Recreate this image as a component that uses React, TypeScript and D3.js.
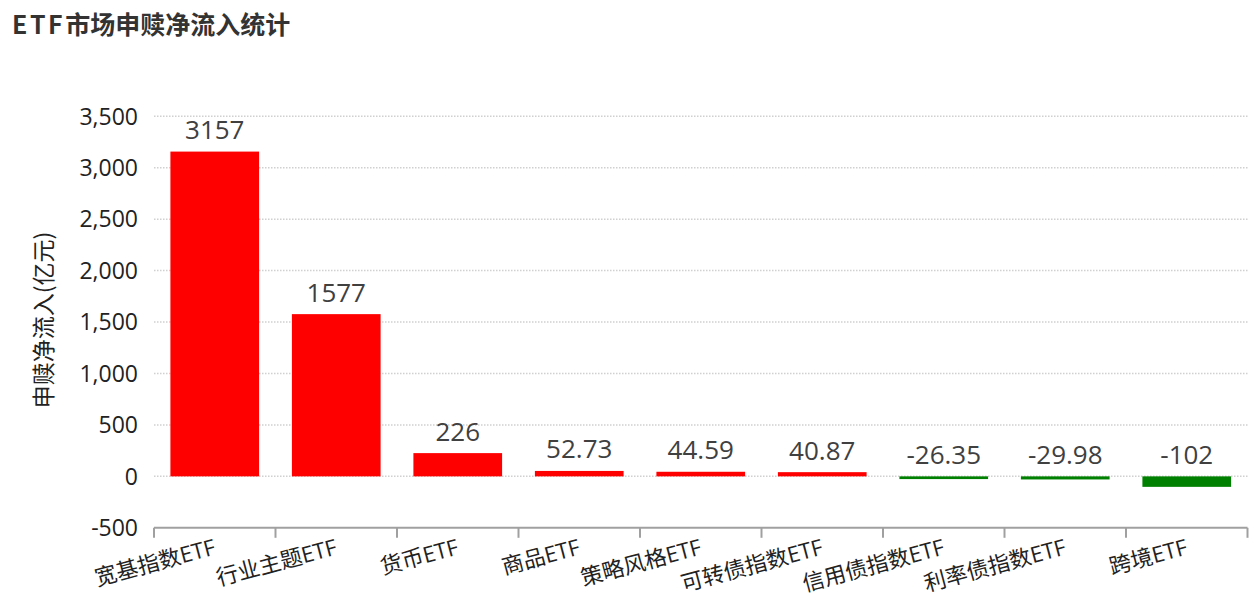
import { useEffect, useRef } from 'react'
import * as d3 from 'd3'

const categories = ['宽基指数ETF', '行业主题ETF', '货币ETF', '商品ETF', '策略风格ETF', '可转债指数ETF', '信用债指数ETF', '利率债指数ETF', '跨境ETF']
const netFlows = [3157, 1577, 226, 52.73, 44.59, 40.87, -26.35, -29.98, -102]
const valueLabels = ['3157', '1577', '226', '52.73', '44.59', '40.87', '-26.35', '-29.98', '-102']
const yTicks = [-500, 0, 500, 1000, 1500, 2000, 2500, 3000, 3500]

const FONT = '"Open Sans", "Noto Sans CJK SC", sans-serif'
const CJK_FONT = '"Noto Sans CJK SC", sans-serif'

export default function App() {
  const svgRef = useRef<SVGSVGElement>(null)

  useEffect(() => {
    if (!svgRef.current) return
    const svg = d3.select(svgRef.current)
    svg.selectAll('*').remove()

    const width = 1260
    const height = 600
    const left = 154
    const right = 1247.5
    const top = 116.3
    const bottom = 527.8

    svg.attr('width', width).attr('height', height).style('font-family', FONT)

    // Title
    const title = svg.append('text')
      .attr('x', 12)
      .attr('y', 34)
      .style('font-family', CJK_FONT)
      .style('font-size', '25px')
      .style('font-weight', 'bold')
      .style('fill', '#333333')
    title.append('tspan').style('letter-spacing', '2.5px').text('ETF')
    title.append('tspan').text('市场申赎净流入统计')

    const x = d3.scaleBand<string>()
      .domain(categories)
      .range([left, right])
      .paddingInner(0.27)
      .paddingOuter(0.135)

    const y = d3.scaleLinear()
      .domain([-500, 3500])
      .range([bottom, top])

    const step = x.step()

    // Dotted grid lines
    svg.selectAll('.grid-line')
      .data(yTicks.filter(t => t !== -500))
      .enter().append('line')
      .attr('x1', left)
      .attr('x2', right)
      .attr('y1', d => y(d))
      .attr('y2', d => y(d))
      .attr('stroke', '#d0d0d0')
      .attr('stroke-width', 1.5)
      .attr('stroke-dasharray', '1.5,1.5')

    // Y tick labels
    svg.selectAll('.y-label')
      .data(yTicks)
      .enter().append('text')
      .attr('x', 138)
      .attr('y', d => y(d))
      .attr('dy', '0.36em')
      .attr('text-anchor', 'end')
      .style('font-size', '23px')
      .style('fill', '#222222')
      .text(d => d3.format(',')(d).replace('−', '-'))

    // Y axis title
    svg.append('text')
      .attr('transform', `translate(52, ${(230 + 410) / 2}) rotate(-90)`)
      .attr('text-anchor', 'middle')
      .style('font-family', CJK_FONT)
      .style('font-size', '23px')
      .style('fill', '#222222')
      .text('申赎净流入(亿元)')

    // Bars
    svg.selectAll('.bar')
      .data(netFlows)
      .enter().append('rect')
      .attr('x', (d, i) => x(categories[i])!)
      .attr('width', x.bandwidth())
      .attr('y', d => y(Math.max(0, d)))
      .attr('height', d => Math.abs(y(d) - y(0)))
      .attr('fill', d => (d >= 0 ? '#ff0000' : '#008000'))

    // Value labels
    svg.selectAll('.value-label')
      .data(netFlows)
      .enter().append('text')
      .attr('x', (d, i) => x(categories[i])! + x.bandwidth() / 2)
      .attr('y', d => Math.min(y(d), y(0)) - 12.5)
      .attr('text-anchor', 'middle')
      .style('font-size', '26px')
      .style('fill', '#404040')
      .text((d, i) => valueLabels[i])

    // X axis line and ticks at category boundaries
    svg.append('line')
      .attr('x1', left)
      .attr('x2', right)
      .attr('y1', bottom)
      .attr('y2', bottom)
      .attr('stroke', '#a0a0a0')
      .attr('stroke-width', 2)

    svg.selectAll('.x-tick')
      .data(d3.range(categories.length + 1))
      .enter().append('line')
      .attr('x1', i => left + i * step)
      .attr('x2', i => left + i * step)
      .attr('y1', bottom)
      .attr('y2', bottom + 10)
      .attr('stroke', '#a0a0a0')
      .attr('stroke-width', 2)

    // Rotated category labels
    svg.selectAll('.x-label')
      .data(categories)
      .enter().append('text')
      .attr('transform', d => `translate(${x(d)! + x.bandwidth() / 2 + 2}, 554) rotate(-15)`)
      .attr('text-anchor', 'end')
      .style('font-size', '22px')
      .style('fill', '#222222')
      .text(d => d)
  }, [])

  return (
    <div style={{ position: 'absolute', left: 0, top: 0, background: '#ffffff' }}>
      <svg ref={svgRef}></svg>
    </div>
  )
}
